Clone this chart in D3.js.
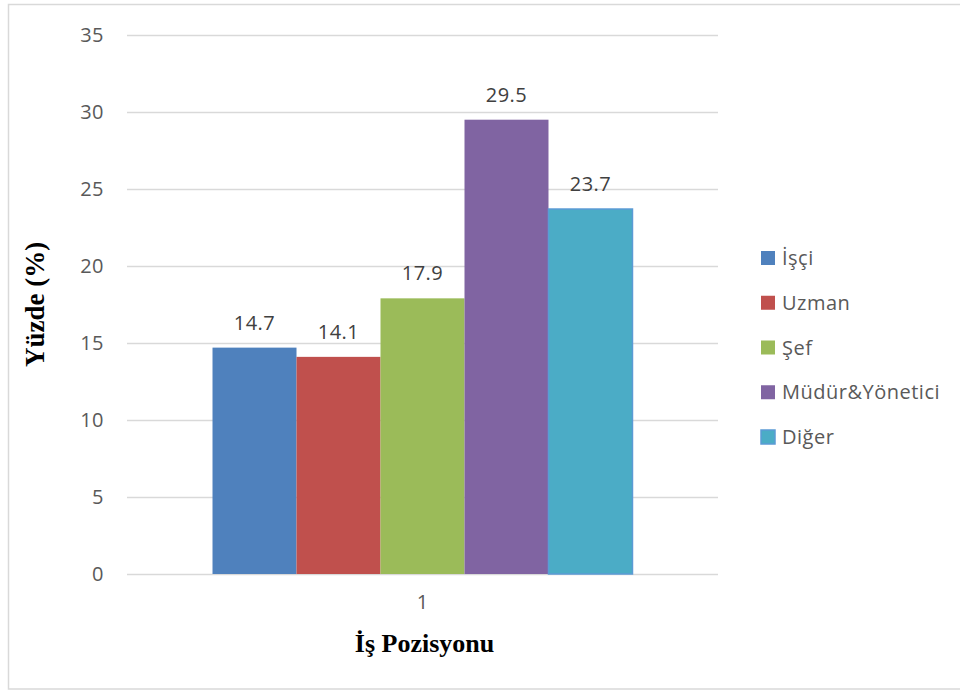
<!DOCTYPE html>
<html>
<head>
<meta charset="utf-8">
<script src="https://cdn.jsdelivr.net/npm/d3@7"></script>
<style>
  html, body { margin: 0; padding: 0; background: #fff; }
  svg { display: block; }
</style>
</head>
<body>
<svg id="chart" width="960" height="691"></svg>
<script>
const categories = ["1"];
const seriesNames = ["İşçi", "Uzman", "Şef", "Müdür&Yönetici", "Diğer"];
const seriesValues = [14.7, 14.1, 17.9, 29.5, 23.7];
const seriesColors = ["#4F81BD", "#C0504D", "#9BBB59", "#8064A2", "#4BACC6"];
const yTicks = [0, 5, 10, 15, 20, 25, 30, 35];
const yTitle = "Yüzde (%)";
const xTitle = "İş Pozisyonu";

const svg = d3.select("#chart");
const font = "'Open Sans', sans-serif";
const fs = 20;
const ls = "0.5px";

// outer border
svg.append("rect").attr("x", 8.5).attr("y", 4.5).attr("width", 960).attr("height", 684.5)
  .attr("fill", "none").attr("stroke", "#D9D9D9").attr("stroke-width", 1.5);

const plot = { left: 127, right: 718, top: 35, bottom: 574 };

const x0 = d3.scaleBand().domain(categories).range([plot.left, plot.right]).paddingInner(0).paddingOuter(0.2036);
const x1 = d3.scaleBand().domain(seriesNames).range([0, x0.bandwidth()]).padding(0);
const y = d3.scaleLinear().domain([0, 35]).range([plot.bottom, plot.top]);

// gridlines
svg.append("g").selectAll("line").data(yTicks).join("line")
  .attr("x1", plot.left).attr("x2", plot.right)
  .attr("y1", d => y(d) + 0.5).attr("y2", d => y(d) + 0.5)
  .attr("stroke", "#D9D9D9").attr("stroke-width", 1.3);

// y axis labels
const yAxis = d3.axisLeft(y).tickValues(yTicks).tickSize(0).tickPadding(0);
const gy = svg.append("g").attr("transform", `translate(${plot.left - 23},0)`).call(yAxis);
gy.select(".domain").remove();
gy.selectAll("text").attr("font-family", font).attr("font-size", fs).attr("letter-spacing", ls).attr("fill", "#595959");

// x axis label
const xAxis = d3.axisBottom(x0).tickSize(0).tickPadding(0);
const gx = svg.append("g").attr("transform", `translate(0,${plot.bottom + 21})`).call(xAxis);
gx.select(".domain").remove();
gx.selectAll("text").attr("font-family", font).attr("font-size", fs).attr("fill", "#595959");

// bars
const data = seriesNames.map((s, i) => ({ cat: categories[0], name: s, value: seriesValues[i], color: seriesColors[i] }));
const g = svg.append("g");
g.selectAll("rect").data(data).join("rect")
  .attr("x", d => x0(d.cat) + x1(d.name))
  .attr("y", d => y(d.value))
  .attr("width", x1.bandwidth())
  .attr("height", d => y(0) - y(d.value))
  .attr("fill", d => d.color)
  .attr("stroke", d => d.name === "Diğer" ? "#5B9BD5" : "none")
  .attr("stroke-width", 1.5);

// data labels
g.selectAll("text").data(data).join("text")
  .attr("x", d => x0(d.cat) + x1(d.name) + x1.bandwidth() / 2)
  .attr("y", d => y(d.value) - 18)
  .attr("text-anchor", "middle")
  .attr("font-family", font).attr("font-size", fs).attr("letter-spacing", ls).attr("fill", "#404040")
  .text(d => d.value.toFixed(1));

// axis titles
svg.append("text")
  .attr("transform", `translate(44,${(plot.top + plot.bottom) / 2}) rotate(-90)`)
  .attr("text-anchor", "middle")
  .attr("font-family", "'Liberation Serif', 'Times New Roman', serif")
  .attr("font-weight", "bold").attr("font-size", 27).attr("fill", "#000")
  .text(yTitle);

svg.append("text")
  .attr("x", (plot.left + plot.right) / 2 + 2).attr("y", 652)
  .attr("text-anchor", "middle")
  .attr("font-family", "'Liberation Serif', 'Times New Roman', serif")
  .attr("font-weight", "bold").attr("font-size", 26).attr("fill", "#000")
  .text(xTitle);

// legend
const legY = d3.scalePoint().domain(seriesNames).range([258, 437]);
const leg = svg.append("g");
const li = leg.selectAll("g").data(data).join("g")
  .attr("transform", d => `translate(761,${legY(d.name)})`);
li.append("rect").attr("x", 0).attr("y", -7).attr("width", 14).attr("height", 14)
  .attr("fill", d => d.color)
  .attr("stroke", d => d.name === "Diğer" ? "#5B9BD5" : "none").attr("stroke-width", 1.5);
li.append("text").attr("x", 21).attr("y", 0).attr("dy", "0.35em")
  .attr("font-family", font).attr("font-size", fs).attr("letter-spacing", ls).attr("fill", "#595959")
  .text(d => d.name);
</script>
</body>
</html>
